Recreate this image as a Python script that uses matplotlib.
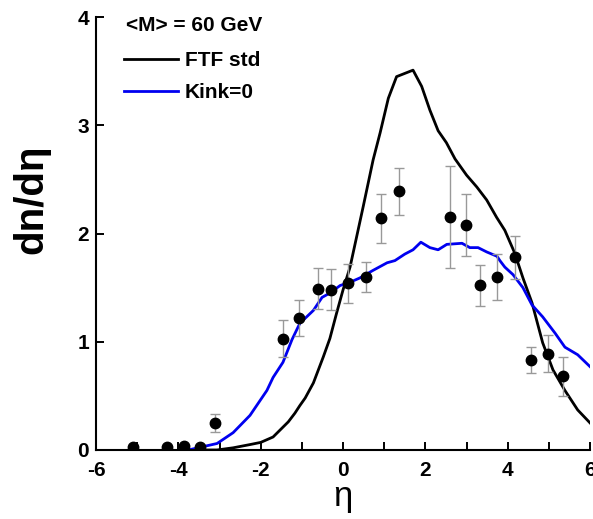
import numpy as np
import matplotlib
matplotlib.use('Agg')
from matplotlib import pyplot as plt

plt.rcParams['font.family'] = ['Liberation Sans', 'DejaVu Sans']
plt.rcParams['axes.unicode_minus'] = False

# data points with error bars
eta_pts = [-5.1, -4.27, -3.86, -3.47, -3.1, -1.46, -1.07, -0.6, -0.29, 0.13, 0.55,
           0.92, 1.36, 2.6, 2.99, 3.33, 3.74, 4.17, 4.56, 4.98, 5.35]
dn_pts = [0.03, 0.03, 0.04, 0.03, 0.25, 1.03, 1.22, 1.49, 1.48, 1.54, 1.6,
          2.14, 2.39, 2.15, 2.08, 1.52, 1.6, 1.78, 0.83, 0.89, 0.68]
dn_err = [0.0, 0.0, 0.0, 0.0, 0.08, 0.17, 0.17, 0.19, 0.19, 0.18, 0.14,
          0.23, 0.22, 0.47, 0.29, 0.19, 0.21, 0.2, 0.12, 0.17, 0.18]

# FTF std
eta_ftf = [-3.8, -3.06, -2.67, -2.26, -2.0, -1.7, -1.33, -1.17, -1.05, -0.92, -0.72,
           -0.48, -0.32, -0.16, 0.0, 0.17, 0.49, 0.73, 0.9, 1.1, 1.3, 1.7, 1.91,
           2.11, 2.31, 2.51, 2.72, 3.0, 3.25, 3.49, 3.73, 3.93, 4.17, 4.37, 4.59,
           4.85, 5.1, 5.39, 5.7, 6.0]
dn_ftf = [0.0, 0.0, 0.02, 0.05, 0.07, 0.12, 0.26, 0.34, 0.41, 0.48, 0.62,
          0.86, 1.03, 1.26, 1.48, 1.69, 2.25, 2.68, 2.93, 3.25, 3.45, 3.51, 3.36,
          3.14, 2.95, 2.84, 2.69, 2.54, 2.43, 2.31, 2.15, 2.03, 1.82, 1.59, 1.36,
          0.99, 0.74, 0.55, 0.37, 0.25]

# Kink=0
eta_kink = [-3.76, -3.06, -2.67, -2.26, -1.85, -1.7, -1.46, -1.24, -1.05, -0.72,
            -0.51, -0.32, -0.07, 0.17, 0.41, 0.73, 1.07, 1.26, 1.5, 1.7, 1.89,
            2.11, 2.31, 2.52, 2.89, 3.08, 3.28, 3.49, 3.74, 3.81, 3.93, 4.13,
            4.37, 4.59, 4.85, 5.15, 5.39, 5.7, 6.0]
dn_kink = [0.0, 0.06, 0.16, 0.32, 0.55, 0.67, 0.81, 1.02, 1.17, 1.29,
           1.41, 1.45, 1.52, 1.55, 1.59, 1.66, 1.73, 1.75, 1.81, 1.85, 1.92,
           1.87, 1.85, 1.9, 1.91, 1.87, 1.87, 1.83, 1.79, 1.75, 1.69, 1.62,
           1.5, 1.34, 1.23, 1.08, 0.95, 0.88, 0.77]

fig = plt.figure(figsize=(5.93, 5.19), dpi=100)
ax = fig.add_axes([0.162, 0.133, 0.833, 0.834])

ax.plot(eta_ftf, dn_ftf, color='black', lw=2.0, label='FTF std')
ax.plot(eta_kink, dn_kink, color='#0000f0', lw=2.0, label='Kink=0')
ax.errorbar(eta_pts, dn_pts, yerr=dn_err, fmt='o', color='black', ms=7.5,
            ecolor='#999999', elinewidth=1.0, capsize=3.5, capthick=1.0)

ax.set_xlim(-6, 6)
ax.set_ylim(0, 4)
ax.set_xticks(np.arange(-6, 7, 2))
ax.set_xticks(np.arange(-5, 6, 2), minor=True)
ax.set_yticks([0, 1, 2, 3, 4])
for s in ['top', 'right']:
    ax.spines[s].set_visible(False)
for s in ['left', 'bottom']:
    ax.spines[s].set_linewidth(1.5)
ax.tick_params(direction='in', length=6, width=1.4, labelsize=15)
ax.tick_params(axis='x', pad=8)
ax.tick_params(axis='y', pad=5)
ax.tick_params(which='minor', direction='in', length=6, width=1.4)
for lab in ax.get_xticklabels() + ax.get_yticklabels():
    lab.set_fontweight('bold')

ax.set_xlabel('η', fontsize=25, labelpad=0)
ax.set_ylabel('dn/dη', fontsize=29, fontweight='bold')
ax.yaxis.set_label_coords(-0.093, 0.58)

ax.text(0.06, 0.98, '<M> = 60 GeV', transform=ax.transAxes, fontsize=15,
        fontweight='bold', va='center', ha='left')
leg = ax.legend(loc='upper left', bbox_to_anchor=(0.04, 0.94), frameon=False,
                prop={'size': 15, 'weight': 'bold'}, handlelength=2.6,
                handletextpad=0.3, labelspacing=0.6, borderaxespad=0)

plt.savefig('out.png', dpi=100)
